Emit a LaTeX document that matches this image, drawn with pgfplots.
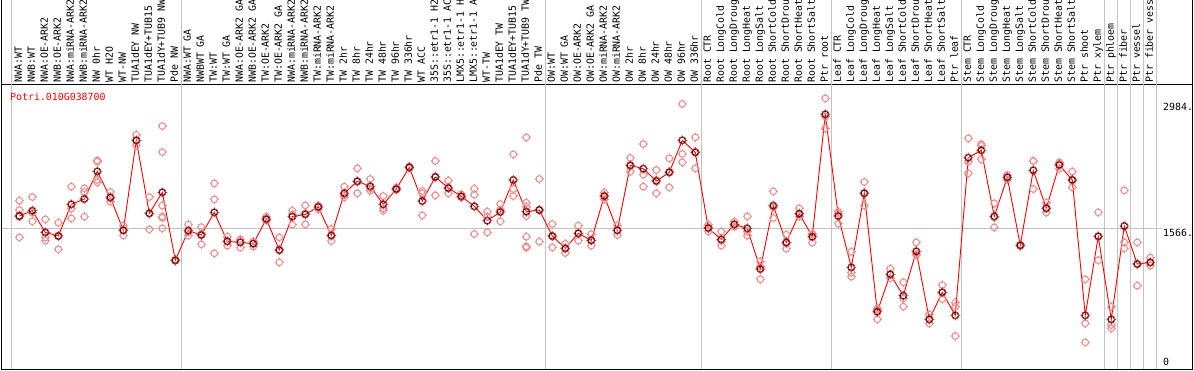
\documentclass[border=0pt]{standalone}
\usepackage{pgfplots}
\pgfplotsset{compat=1.18}
\usepackage{fontspec}
\setmainfont{DejaVu Sans Mono}
\definecolor{rep}{RGB}{236,145,145}
\definecolor{gridg}{RGB}{195,195,195}
\newcommand{\lf}{\fontsize{9.9}{10}\selectfont}
\pgfdeclareplotmark{repo}{%
  \pgfpathcircle{\pgfpointorigin}{3.3pt}%
  \pgfpathmoveto{\pgfpoint{0pt}{3.3pt}}\pgfpathlineto{\pgfpoint{0pt}{4.5pt}}%
  \pgfpathmoveto{\pgfpoint{0pt}{-3.3pt}}\pgfpathlineto{\pgfpoint{0pt}{-4.5pt}}%
  \pgfpathmoveto{\pgfpoint{3.3pt}{0pt}}\pgfpathlineto{\pgfpoint{4.5pt}{0pt}}%
  \pgfpathmoveto{\pgfpoint{-3.3pt}{0pt}}\pgfpathlineto{\pgfpoint{-4.5pt}{0pt}}%
  \pgfusepathqstroke}
\pgfdeclareplotmark{meano}{%
  \pgfsetstrokecolor{red}%
  \pgfpathcircle{\pgfpointorigin}{3.8pt}%
  \pgfpathmoveto{\pgfpoint{0pt}{3.8pt}}\pgfpathlineto{\pgfpoint{0pt}{5pt}}%
  \pgfpathmoveto{\pgfpoint{0pt}{-3.8pt}}\pgfpathlineto{\pgfpoint{0pt}{-5pt}}%
  \pgfpathmoveto{\pgfpoint{3.8pt}{0pt}}\pgfpathlineto{\pgfpoint{5pt}{0pt}}%
  \pgfpathmoveto{\pgfpoint{-3.8pt}{0pt}}\pgfpathlineto{\pgfpoint{-5pt}{0pt}}%
  \pgfusepathqstroke
  \pgfsetstrokecolor{black}%
  \pgfsetlinewidth{0.6pt}%
  \pgfpathcircle{\pgfpointorigin}{3.0pt}%
  \pgfusepathqstroke}

\pgfplotstableread{
x y
0 1874
0 1769
0 1461
1 1915
1 1739
1 1641
2 1664
2 1457
2 1423
3 1626
3 1476
3 1326
4 2032
4 1784
4 1675
5 2013
5 1972
5 1694
6 2328
6 2313
6 2107
6 2080
7 1972
7 1863
7 1900
8 1592
8 1480
8 1548
9 2617
9 2497
9 2548
10 1915
10 1551
10 1731
11 2715
11 2422
11 1818
11 1694
11 1682
11 1562
12 1210
12 1195
12 1200
13 1607
13 1480
13 1520
14 1577
14 1382
14 1498
15 2069
15 1889
15 1281
16 1468
16 1416
16 1367
17 1438
17 1430
17 1344
18 1416
18 1395
18 1356
19 1694
19 1656
19 1652
20 1461
20 1179
20 1318
21 1761
21 1603
21 1718
22 1821
22 1607
22 1731
23 1814
23 1776
23 1818
24 1555
24 1419
24 1476
25 2032
25 1911
25 1938
26 2238
26 1957
26 2088
27 2118
27 1987
27 2013
28 1926
28 1788
28 1761
29 2020
29 2000
29 1995
30 2260
30 2245
30 2242
31 1983
31 1957
31 1709
32 2321
32 1934
32 2144
33 2099
33 1957
33 2013
34 1945
34 1911
34 1913
35 2009
35 1941
35 1498
36 1750
36 1517
36 1694
37 1836
37 1641
37 1769
38 2396
38 2005
38 1926
39 2587
39 1851
39 1806
39 1701
39 1468
39 1359
39 1344
40 2118
40 1412
40 1769
41 1611
41 1348
41 1470
42 1389
42 1337
42 1284
43 1592
43 1506
43 1423
44 1498
44 1427
44 1367
45 1964
45 1926
45 1889
46 1596
46 1540
46 1487
47 2355
47 2201
47 2264
48 2512
48 2167
48 2032
49 2219
49 1957
49 2107
50 2351
50 2024
50 2200
51 2963
51 2400
51 2306
52 2587
52 2238
52 2426
53 1603
53 1566
53 1528
54 1525
54 1367
54 1420
55 1637
55 1607
55 1581
56 1697
56 1480
56 1525
57 1187
57 988
57 1130
58 1979
58 1679
58 1799
59 1491
59 1333
59 1390
60 1788
60 1727
60 1694
61 1498
61 1500
61 1401
62 3027
62 2689
62 2820
63 1750
63 1615
63 1731
64 1299
64 1018
64 1063
65 2084
65 1818
65 1964
66 661
66 537
66 642
67 1108
67 1044
67 1000
68 954
68 680
68 774
69 1404
69 1262
69 1273
70 593
70 537
70 490
71 924
71 841
71 766
72 725
72 680
72 349
73 2576
73 2313
73 2182
74 2512
74 2340
74 2493
75 1844
75 1573
75 1686
76 2163
76 2137
76 2111
77 1380
77 1371
77 1362
78 2321
78 2321
78 2005
79 1851
79 1788
79 1739
80 2306
80 2290
80 2232
81 2201
81 2107
81 2024
82 988
82 492
82 278
83 1742
83 1202
83 1472
84 680
84 473
84 436
85 1990
85 1404
85 1337
86 1404
86 916
86 1160
87 1232
87 1179
87 1142
}\reps

\pgfplotstableread{
x y
0 1701
1 1761
2 1517
3 1476
4 1833
5 1893
6 2204
7 1911
8 1540
9 2554
10 1731
11 1968
12 1202
13 1536
14 1487
15 1742
16 1416
17 1404
18 1389
19 1667
20 1318
21 1694
22 1720
23 1803
24 1483
25 1957
26 2092
27 2035
28 1833
29 2005
30 2249
31 1870
32 2141
33 2017
34 1923
35 1810
36 1649
37 1746
38 2107
39 1750
40 1769
41 1476
42 1337
43 1506
44 1427
45 1926
46 1540
47 2272
48 2234
49 2095
50 2193
51 2554
52 2418
53 1566
54 1438
55 1607
56 1562
57 1104
58 1818
59 1404
60 1727
61 1468
62 2847
63 1701
64 1123
65 1957
66 623
67 1044
68 804
69 1303
70 537
71 841
72 582
73 2358
74 2441
75 1697
76 2137
77 1371
78 2216
79 1788
80 2276
81 2107
82 582
83 1472
84 537
85 1588
86 1160
87 1179
}\means

\begin{document}
\begin{tikzpicture}
\begin{axis}[
  name=main,
  scale only axis, width=1191pt, height=284pt,
  xmin=-1.37, xmax=90.25, ymin=-22.5, ymax=3177,
  axis line style={black, line width=1pt},
  xtick={0,...,87},
  xticklabels={NWA:WT,NWB:WT,NWA:OE-ARK2,NWB:OE-ARK2,NWA:miRNA-ARK2,NWB:miRNA-ARK2,NW 0hr,WT H2O,WT-NW,TUA1dEY NW,TUA1dEY+TUB15,TUA1dY+TUB9 NW,Pde NW,
    NWA:WT GA,NWBWT GA,TW:WT,TW:WT GA,NWA:OE-ARK2 GA,NWB:OE-ARK2 GA,TW:OE-ARK2,TW:OE-ARK2 GA,NWA:miRNA-ARK2,NWB:miRNA-ARK2,TW:miRNA-ARK2,TW:miRNA-ARK2,TW 2hr,TW 8hr,TW 24hr,TW 48hr,TW 96hr,TW 336hr,WT ACC,35S::etr1-1 H2,35S::etr1-1 AC,LMX5::etr1-1 H,LMX5::etr1-1 A,WT-TW,TUA1dEY TW,TUA1dEY+TUB15,TUA1dY+TUB9 TW,Pde TW,
    OW:WT,OW:WT GA,OW:OE-ARK2,OW:OE-ARK2 GA,OW:miRNA-ARK2,OW:miRNA-ARK2,OW 2hr,OW 8hr,OW 24hr,OW 48hr,OW 96hr,OW 336hr,
    Root CTR,Root LongCold,Root LongDroug,Root LongHeat,Root LongSalt,Root ShortCold,Root ShortDrou,Root ShortHeat,Root ShortSalt,Ptr root,
    Leaf CTR,Leaf LongCold,Leaf LongDroug,Leaf LongHeat,Leaf LongSalt,Leaf ShortCold,Leaf ShortDrou,Leaf ShortHeat,Leaf ShortSalt,Ptr leaf,
    Stem CTR,Stem LongCold,Stem LongDroug,Stem LongHeat,Stem LongSalt,Stem ShortCold,Stem ShortDrou,Stem ShortHeat,Stem ShortSalt,Ptr shoot,Ptr xylem,
    Ptr phloem,Ptr fiber,Ptr vessel,Ptr fiber vess},
  xticklabel pos=upper,
  major tick length=0pt,
  ytick=\empty,
  xticklabel style={rotate=90, anchor=west, inner sep=0pt, font=\lf, text height=7pt, text depth=2pt},
  xticklabel shift=2pt,
  clip=false,
]
\pgfplotsinvokeforeach{-0.6,12.5,40.5,52.5,62.5,72.5,83.5,84.5,85.5,86.5,87.5}{
  \draw[gridg, line width=1pt] (axis cs:#1,-22.5) -- (axis cs:#1,4135);
}
\draw[gridg, line width=1pt] (axis cs:-1.37,1566) -- (axis cs:87.9,1566);
\draw[black, line width=1pt] (axis cs:-1.37,3177) -- (axis cs:-1.37,4135);
\draw[black, line width=1pt] (axis cs:90.25,3177) -- (axis cs:90.25,4135);
\addplot[only marks, mark=repo, color=rep, line width=1.1pt] table[x=x,y=y] {\reps};
\addplot[red, line width=0.9pt, mark=meano, mark options={line width=1pt}] table[x=x,y=y] {\means};
\node[anchor=west, text=red, font=\lf, inner sep=0pt] at (axis cs:-0.715,3045) {Potri.010G038700};
\node[anchor=west, font=\lf, inner sep=0pt] at (axis cs:87.98,2929) {2984.};
\node[anchor=west, font=\lf, inner sep=0pt] at (axis cs:87.98,1510) {1566.};
\node[anchor=west, font=\lf, inner sep=0pt] at (axis cs:87.98,56) {0};
\end{axis}
\pgfresetboundingbox
\path[use as bounding box] ([xshift=-1.5pt,yshift=-1pt]main.south west) rectangle ([xshift=1.5pt,yshift=85pt]main.north east);
\end{tikzpicture}
\end{document}
